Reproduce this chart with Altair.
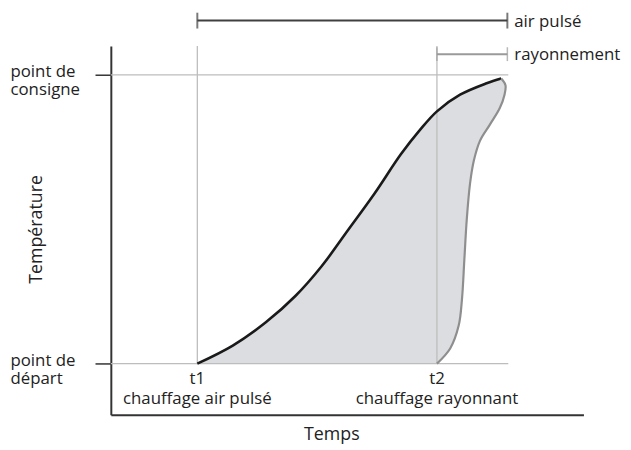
import altair as alt
import pandas as pd

# ---- data ----
black_x = [18.3, 25.8, 32.8, 39.1, 44.6, 50.2, 55.8, 61.4, 65.5, 69.0, 73.9, 79.5, 82.6]
black_y = [13.9, 18.8, 25.1, 32.3, 40.3, 50.1, 60.0, 70.7, 77.4, 82.3, 86.8, 89.9, 91.2]
gray_x = [69.0, 71.8, 73.6, 74.3, 74.8, 75.3, 76.0, 76.8, 78.1, 80.2, 82.3, 83.3, 83.5, 82.6]
gray_y = [13.9, 18.0, 24.2, 31.4, 42.1, 52.8, 62.7, 68.9, 74.3, 78.7, 83.2, 86.8, 89.4, 91.2]

level_names = ["départ", "consigne"]
level_values = [13.9, 92.2]
event_labels = ["t1", "t2"]
event_names = ["chauffage air pulsé", "chauffage rayonnant"]
event_times = [18.3, 69.0]
grid_end = 84.1
plot_top = 100.0
bar_names = ["air pulsé", "rayonnement"]
bar_levels = [106.9, 97.8]
bar_starts = [18.3, 69.0]
bar_end = 83.9

FONT = "Open Sans"
TXT = "#222222"

xs = alt.Scale(domain=[0, 100], nice=False, zero=False)
ys = alt.Scale(domain=[0, 100], nice=False, zero=False)

black = pd.DataFrame({"x": black_x, "y": black_y, "i": range(len(black_x))})
gray = pd.DataFrame({"x": gray_x, "y": gray_y, "i": range(len(gray_x))})
poly = pd.DataFrame({
    "x": black_x + gray_x[::-1],
    "y": black_y + gray_y[::-1],
    "i": list(range(len(black_x) + len(gray_x))),
})

x_axis = alt.Axis(
    title="Temps", labels=False, ticks=False, grid=False,
    domainColor="#333333", domainWidth=2,
    titleFont=FONT, titleFontSize=18, titleFontWeight="normal", titleColor=TXT,
    titleX=223, titleY=24.5, titleAlign="center", titleBaseline="alphabetic",
)
y_axis = alt.Axis(
    title="Température", values=level_values, grid=False,
    labelExpr="datum.value > 50 ? ['point de', 'consigne'] : ['point de', 'départ']",
    labelFont=FONT, labelFontSize=17, labelColor=TXT, labelAlign="left",
    labelBaseline="middle", labelPadding=86, labelLineHeight=18, labelOffset=-3,
    tickSize=16, tickColor="#333333", tickWidth=1.5,
    domainColor="#333333", domainWidth=2,
    titleFont=FONT, titleFontSize=18, titleFontWeight="normal", titleColor=TXT,
    titleAngle=-90, titleX=-70, titleY=185, titleAlign="center", titleBaseline="alphabetic",
)

fill = alt.Chart(poly).mark_line(
    fill="#dcdde0", stroke="#dcdde0", strokeWidth=0.5, interpolate="catmull-rom"
).encode(
    x=alt.X("x:Q", scale=xs, axis=x_axis),
    y=alt.Y("y:Q", scale=ys, axis=y_axis),
    order="i:Q",
)

hgrid = pd.DataFrame({"x": [0.0] * 2, "x2": [grid_end] * 2, "y": level_values, "y2": level_values})
vgrid = pd.DataFrame({"x": event_times, "x2": event_times,
                      "y": [level_values[0]] * 2, "y2": [plot_top] * 2})
grid = pd.concat([hgrid, vgrid])
grid_layer = alt.Chart(grid).mark_rule(color="#bdbdbd", strokeWidth=1.3).encode(
    x=alt.X("x:Q", scale=xs), x2="x2:Q", y=alt.Y("y:Q", scale=ys), y2="y2:Q"
)

black_line = alt.Chart(black).mark_line(
    color="#1a1a1a", strokeWidth=2.6, interpolate="catmull-rom"
).encode(x=alt.X("x:Q", scale=xs), y=alt.Y("y:Q", scale=ys), order="i:Q")
gray_line = alt.Chart(gray).mark_line(
    color="#8e8e8e", strokeWidth=2.2, interpolate="catmull-rom"
).encode(x=alt.X("x:Q", scale=xs), y=alt.Y("y:Q", scale=ys), order="i:Q")

bars = pd.DataFrame({"name": bar_names, "start": bar_starts,
                     "end": [bar_end] * 2, "level": bar_levels})
bar_color = alt.Color("name:N", scale=alt.Scale(domain=bar_names, range=["#404040", "#9a9a9a"]), legend=None)
bar_rule = alt.Chart(bars).mark_rule(strokeWidth=2).encode(
    x=alt.X("start:Q", scale=xs), x2="end:Q", y=alt.Y("level:Q", scale=ys), color=bar_color,
    strokeWidth=alt.StrokeWidth("name:N", scale=alt.Scale(domain=bar_names, range=[2, 1.5]), legend=None),
)
caps = pd.DataFrame({
    "name": bar_names + bar_names,
    "x": bar_starts + [bar_end] * 2,
    "level": bar_levels + bar_levels,
})
cap_a = alt.Chart(caps[caps["name"] == bar_names[0]]).mark_tick(
    orient="vertical", size=16, thickness=2, color="#404040"
).encode(x=alt.X("x:Q", scale=xs), y=alt.Y("level:Q", scale=ys))
cap_b = alt.Chart(caps[caps["name"] == bar_names[1]]).mark_tick(
    orient="vertical", size=14, thickness=1.5, color="#9a9a9a"
).encode(x=alt.X("x:Q", scale=xs), y=alt.Y("level:Q", scale=ys))
bar_text = alt.Chart(bars).mark_text(
    align="left", baseline="middle", dx=7, dy=1, font=FONT, fontSize=17, color=TXT
).encode(x=alt.X("end:Q", scale=xs), y=alt.Y("level:Q", scale=ys), text="name:N")

events = pd.DataFrame({"t": event_times, "lab": event_labels, "name": event_names})
t_text = alt.Chart(events).mark_text(
    align="center", baseline="alphabetic", font=FONT, fontSize=17, color=TXT
).encode(x=alt.X("t:Q", scale=xs), y=alt.value(342), text="lab:N")
n_text = alt.Chart(events).mark_text(
    align="center", baseline="alphabetic", font=FONT, fontSize=17, color=TXT
).encode(x=alt.X("t:Q", scale=xs), y=alt.value(362), text="name:N")

chart = alt.layer(
    fill, grid_layer, black_line, gray_line, bar_rule, cap_a, cap_b, bar_text, t_text, n_text
).properties(
    width=478, height=373,
    autosize=alt.AutoSizeParams(type="none"),
    padding={"left": 104, "top": 36, "right": 40, "bottom": 29},
    background="white",
).configure_view(stroke=None)

chart.save("out.html", embed_options={"renderer": "svg", "actions": False})
